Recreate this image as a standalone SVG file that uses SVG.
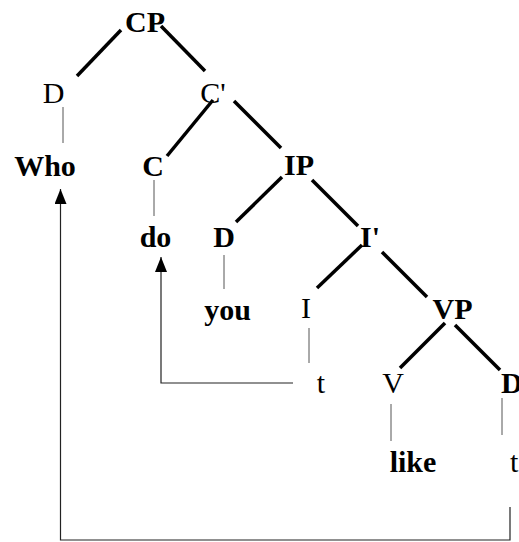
<svg xmlns="http://www.w3.org/2000/svg" width="519" height="542" viewBox="0 0 519 542">
<style>
  text { font-family: "Liberation Serif", "Times New Roman", serif; font-size: 30px; fill: #000; }
  .b { font-weight: bold; }
  .m { text-anchor: middle; }
  .thick { stroke: #000; stroke-width: 3.5; fill: none; }
  .thin { stroke: #555; stroke-width: 1; fill: none; }
  .move { stroke: #222; stroke-width: 1.2; fill: none; }
</style>
<defs>
  <marker id="arr" viewBox="0 0 15 12" refX="15" refY="6" markerWidth="15" markerHeight="12" markerUnits="userSpaceOnUse" orient="auto">
    <path d="M0,0 L15,6 L0,12 Z" fill="#000"/>
  </marker>
</defs>
<rect width="519" height="542" fill="#fff"/>
<g id="connectors">
  <line class="thick" x1="121" y1="30" x2="77" y2="76"/>
  <line class="thick" x1="161" y1="26" x2="205" y2="71"/>
  <line class="thick" x1="213" y1="100" x2="167" y2="156"/>
  <line class="thick" x1="234" y1="101" x2="281" y2="148"/>
  <line class="thick" x1="282" y1="177" x2="236" y2="222"/>
  <line class="thick" x1="312" y1="180" x2="358" y2="226"/>
  <line class="thick" x1="362" y1="245" x2="317" y2="288"/>
  <line class="thick" x1="382" y1="252" x2="427" y2="297"/>
  <line class="thick" x1="445" y1="323" x2="400" y2="368"/>
  <line class="thick" x1="455" y1="325" x2="500" y2="370"/>
  <line class="thin" x1="63" y1="107" x2="63" y2="143"/>
  <line class="thin" x1="154" y1="180" x2="154" y2="216"/>
  <line class="thin" x1="224" y1="255" x2="224" y2="289"/>
  <line class="thin" x1="309" y1="328" x2="309" y2="363"/>
  <line class="thin" x1="391" y1="404" x2="391" y2="441"/>
  <line class="thin" x1="502" y1="398" x2="502" y2="435"/>
  <polyline class="move" points="293,383 161,383 161,257" marker-end="url(#arr)"/>
  <polyline class="move" points="510,507 510,540 60.5,540 60.5,189" marker-end="url(#arr)"/>
</g>
<g id="CP"><text class="b m" x="145" y="32">CP</text></g>
<g id="D1"><text class="m" x="53.5" y="103">D</text></g>
<g id="Cbar"><text class="m" x="213" y="103">C'</text></g>
<g id="Who"><text class="b m" x="45" y="176">Who</text></g>
<g id="C"><text class="b m" x="153" y="176">C</text></g>
<g id="IP"><text class="b m" x="299" y="175">IP</text></g>
<g id="do"><text class="b m" x="155.5" y="247">do</text></g>
<g id="D2"><text class="b m" x="224" y="247">D</text></g>
<g id="Ibar"><text class="b m" x="370" y="247">I'</text></g>
<g id="you"><text class="b m" x="227.5" y="320">you</text></g>
<g id="I"><text class="m" x="306" y="318">I</text></g>
<g id="VP"><text class="b m" x="452.5" y="319">VP</text></g>
<g id="t1"><text class="m" x="321" y="393">t</text></g>
<g id="V"><text class="m" x="393" y="393">V</text></g>
<g id="D3"><text class="b" x="501" y="393">D</text></g>
<g id="like"><text class="b m" x="413" y="472">like</text></g>
<g id="t2"><text x="510" y="472">t</text></g>
</svg>
